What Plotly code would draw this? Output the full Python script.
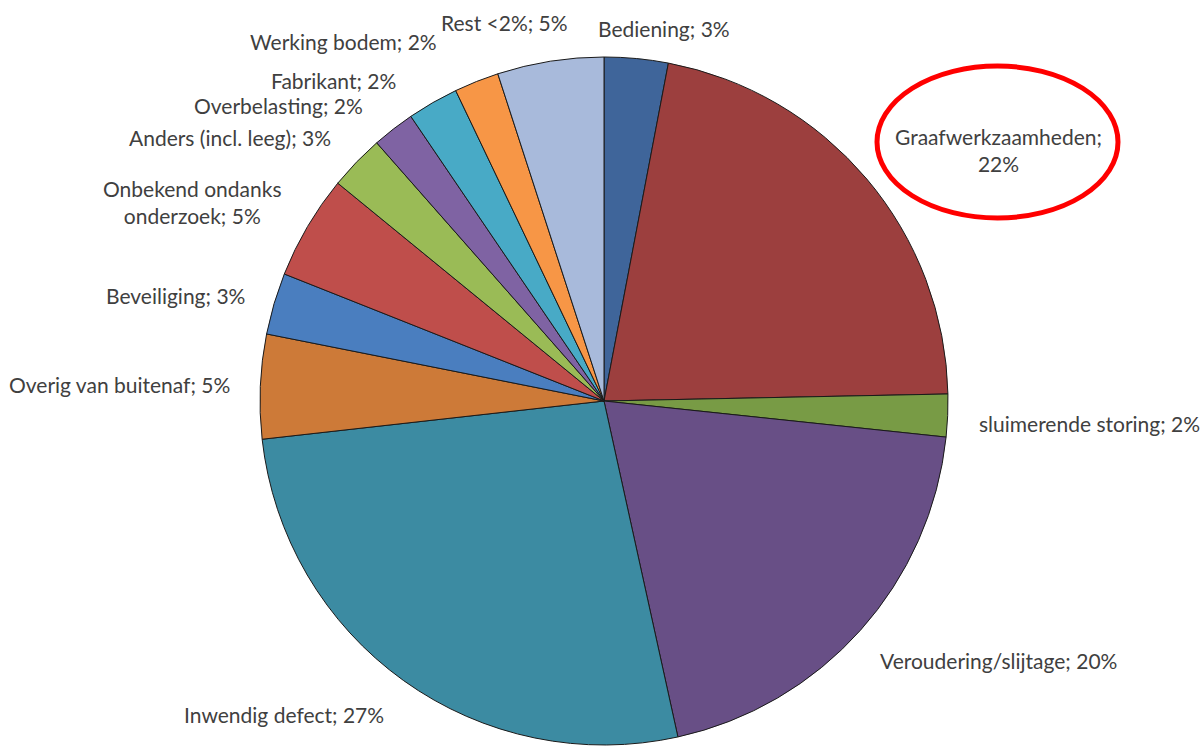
import plotly.graph_objects as go

W, H = 1203, 748

categories = ["Bediening", "Graafwerkzaamheden", "sluimerende storing", "Veroudering/slijtage",
              "Inwendig defect", "Overig van buitenaf", "Beveiliging", "Onbekend ondanks onderzoek",
              "Anders (incl. leeg)", "Overbelasting", "Fabrikant", "Werking bodem", "Rest <2%"]
values = [3.0, 21.7, 2.0, 19.9, 26.7, 4.9, 2.9, 4.9, 2.6, 2.0, 2.4, 2.1, 5.0]
label_lines = ["Bediening; {p}", "Graafwerkzaamheden;<br>{p}", "sluimerende storing; {p}",
               "Veroudering/slijtage; {p}", "Inwendig defect; {p}", "Overig van buitenaf; {p}",
               "Beveiliging; {p}", "Onbekend ondanks<br>onderzoek; {p}", "Anders (incl. leeg); {p}",
               "Overbelasting; {p}", "Fabrikant; {p}", "Werking bodem; {p}", "Rest <2%; {p}"]
colors = ["#3F659A", "#9C3F3E", "#789B45", "#684F86", "#3C8BA2", "#CD7A38", "#4A7EBF",
          "#BF4E4B", "#9ABB56", "#7F63A3", "#48AAC6", "#F79646", "#A8BADB"]

# label anchor positions in pixels (x, y, xanchor)
label_pos = [(596, 28, "left"), (998, 150, "center"), (977, 423, "left"), (878, 660, "left"),
             (182, 714, "left"), (232, 385, "right"), (247, 295, "right"), (192, 202, "center"),
             (333, 138, "right"), (365, 105, "right"), (398, 81, "right"), (439, 41, "right"),
             (504, 22, "center")]

total = sum(values)

fig = go.Figure()
cx, cy, r = 604, 401, 344
fig.add_trace(go.Pie(
    labels=categories, values=values, sort=False, direction="clockwise", rotation=0,
    marker=dict(colors=colors, line=dict(color="#1a1a1a", width=1)),
    textinfo="none", hoverinfo="label+percent", showlegend=False,
    domain=dict(x=[(cx - r) / W, (cx + r) / W], y=[(H - (cy + r)) / H, (H - (cy - r)) / H]),
))

for cat, v, tmpl, (px, py, xa) in zip(categories, values, label_lines, label_pos):
    pct = f"{round(v / total * 100):.0f}%"
    fig.add_annotation(x=px / W, y=1 - py / H, xref="paper", yref="paper",
                       text=tmpl.format(p=pct), showarrow=False, xanchor=xa, yanchor="middle",
                       align="center", font=dict(family="Lato", size=21, color="#404040"))

fig.add_shape(type="circle", xref="paper", yref="paper",
              x0=877 / W, x1=1118 / W, y0=1 - 218 / H, y1=1 - 66 / H,
              line=dict(color="#FF0000", width=5))

fig.update_layout(width=W, height=H, margin=dict(l=0, r=0, t=0, b=0),
                  paper_bgcolor="white", plot_bgcolor="white")
fig.write_html("out.html", config={"displayModeBar": False})

with open("out.html", "r", encoding="utf-8") as f:
    html = f.read()
html = html.replace("<body>", '<body style="margin:0;padding:0;overflow:hidden">', 1)
with open("out.html", "w", encoding="utf-8") as f:
    f.write(html)
